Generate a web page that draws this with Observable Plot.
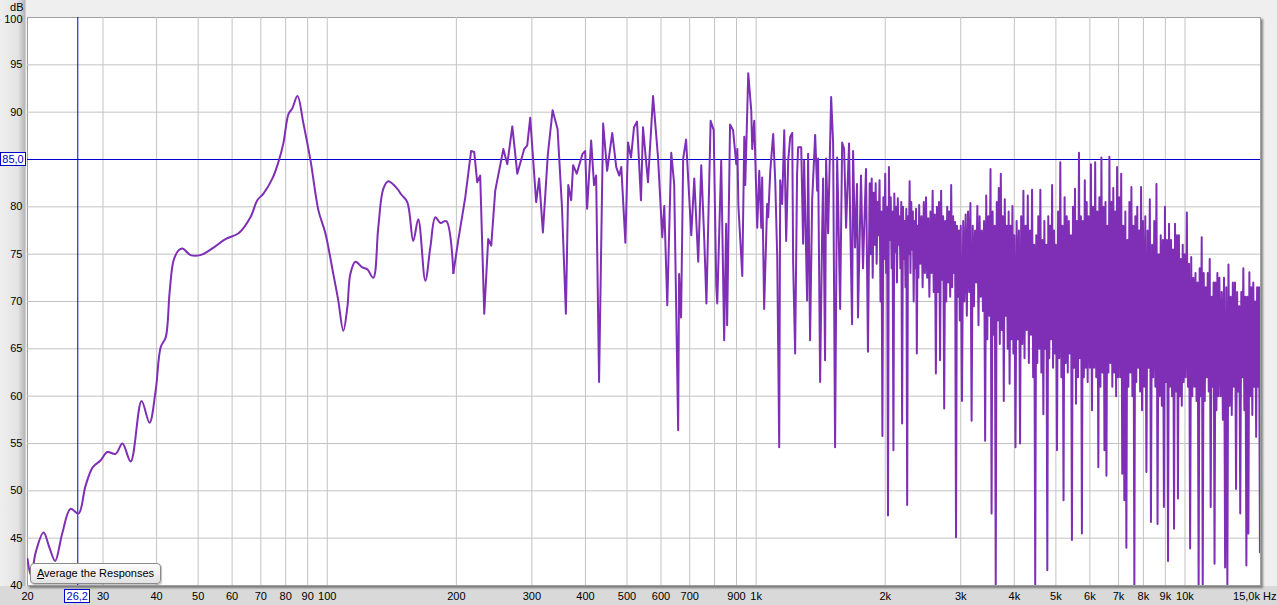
<!DOCTYPE html>
<html><head><meta charset="utf-8">
<script src="https://cdn.jsdelivr.net/npm/d3@7"></script>
<script src="https://cdn.jsdelivr.net/npm/@observablehq/plot@0.6"></script>
<style>
html,body{margin:0;padding:0;background:#efefef;}
#wrap{position:relative;width:1277px;height:605px;overflow:hidden;font-family:"Liberation Sans",Arial,sans-serif;}
.cur{position:absolute;border:1px solid #0000c8;background:#fff;color:#0000c8;font-size:11px;line-height:12px;box-sizing:border-box;text-align:center;}
.btn{position:absolute;box-sizing:border-box;border:1px solid #8a8a8a;border-radius:4px;background:linear-gradient(#fdfdfd,#e2e2e2);font-size:11px;line-height:19px;text-align:center;color:#000;box-shadow:1px 1px 1px rgba(0,0,0,0.25);}
</style></head><body><div id="wrap"></div>
<script>
// ---- data: 20 Hz .. 200 Hz (smooth part)
const lowFreq = [20.0,20.4,20.9,21.8,22.5,23.2,24.1,25.2,26.3,27.3,
28.4,29.6,30.7,32.1,33.3,34.8,36.9,38.5,39.8,40.9,
42.0,42.9,43.8,45.0,46.0,48.0,50.6,54.3,57.9,62.1,
66.2,68.7,71.0,74.5,76.9,79.0,81.2,82.9,85.2,88.0,
91.4,95.4,99.0,103.3,106.1,109.0,111.4,113.2,116.3,120.7,
124.0,128.0,131.5,135.1,138.8,145.7,148.8,153.7,158.7,163.0,
169.3,174.0,178.7,183.6,189.5,196.8];
const lowDb = [42.8,41.0,43.5,45.6,44.0,42.6,45.5,48.1,47.6,50.5,
52.5,53.2,54.1,53.9,55.0,53.1,59.5,57.2,60.6,65.2,
66.2,71.0,74.3,75.4,75.6,74.9,74.9,75.7,76.6,77.2,
78.9,80.7,81.4,83.0,84.7,86.7,89.8,90.4,91.7,88.8,
84.9,79.6,77.2,72.9,70.1,66.9,69.4,72.9,74.2,73.6,
73.4,72.5,77.8,81.9,82.7,81.9,81.3,80.5,76.4,78.7,
72.2,75.8,78.9,78.3,78.5,73.0];

// ---- data: 200 Hz .. 1.8 kHz
const midFreq = [196.8,202.1,209.8,216.5,220.1,223.7,227.3,232.3,237.3,241.2,
246.4,257.4,262.9,270.1,277.4,287.9,292.6,297.3,307.0,311.9,
318.3,326.8,335.3,344.4,352.6,360.1,364.7,370.4,374.4,381.6,
393.8,399.4,403.6,412.4,418.9,423.6,430.3,439.8,449.4,461.9,
471.9,479.6,484.9,495.6,502.7,510.8,519.1,527.5,538.9,544.8,
559.6,575.0,590.6,604.2,610.7,620.6,634.0,644.1,658.0,661.3,
668.4,675.9,686.5,706.0,717.4,732.9,744.8,757.2,765.8,783.3,
796.3,807.3,811.7,829.1,842.3,851.3,855.9,869.4,883.6,899.0,
904.3,909.2,928.4,938.4,943.4,958.6,974.1,979.4,990.0,1006,
1017,1028,1033,1044,1061,1067,1079,1096,1108,1120,
1132,1138,1150,1163,1175,1188,1201,1214,1220,1233,
1246,1253,1274,1287,1294,1315,1322,1336,1351,1373,
1388,1395,1410,1425,1433,1448,1456,1472,1496,1512,
1528,1545,1553,1570,1587,1604,1621,1647,1656,1674,
1683,1701,1719,1728,1756,1775,1804,1823];
const midDb = [73.0,76.5,81.0,85.9,85.8,82.6,83.3,68.7,76.6,75.9,
81.7,86.1,84.5,88.5,83.5,86.1,86.5,89.4,80.5,83.0,
77.3,85.5,90.2,88.2,80.0,68.7,82.3,80.7,84.4,83.5,
85.6,85.9,79.8,87.0,82.3,83.3,61.5,88.8,83.8,87.8,
84.2,83.3,84.2,76.2,86.8,85.2,88.4,89.0,80.7,88.4,
82.6,91.7,85.2,76.8,80.1,69.6,85.7,82.4,56.4,72.9,
68.3,85.1,87.1,77.0,83.0,74.2,84.4,76.4,69.8,89.1,
88.1,71.7,69.8,84.9,65.9,78.2,67.5,88.7,88.1,84.5,
86.1,80.1,72.7,87.4,82.3,94.1,90.2,86.1,89.1,77.8,
83.8,77.8,83.1,69.2,80.3,78.9,83.8,87.7,82.8,74.7,
54.6,82.8,80.3,88.1,76.4,84.9,87.4,87.8,74.0,64.5,
83.5,86.3,86.3,76.1,84.9,70.1,85.6,65.9,80.7,87.6,
81.7,85.1,61.5,77.0,83.0,63.8,85.1,77.2,91.6,86.7,
54.6,85.2,80.7,69.2,86.8,86.1,77.8,86.7,79.3,67.6,
85.9,75.7,82.4,68.3,83.3,73.5,84.0,64.7];

// ---- data: 1.84 kHz .. 15 kHz (dense part)
const denseFreq = [
1840,1850,1860,1870,1880,1890,1900,1910,1920,1930,1940,1950,1960,1970,1980,1990,2000,2010,2020,2030,2040,2050,2060,2070,2080,2090,2100,2110,2120,2130,2140,2150,2160,2170,2180,2190,2200,2210,2220,2230,2240,2250,2260,2270,2280,2290,2300,2310,2320,2330,2340,2350,2360,2370,2380,2390,2400,
2415,2430,2445,2460,2475,2490,2505,2520,2535,2550,2565,2580,2595,2610,2625,2640,2655,2670,2685,2700,2715,2730,2745,2760,2775,2790,2805,2820,2835,2850,2865,2880,2895,2910,2925,2940,2955,2970,2985,
3000,3020,3040,3060,3080,3100,3120,3140,3160,3180,3200,3220,3240,3260,3280,3300,3320,3340,3360,3380,3400,3420,3440,3460,3480,3500,3520,3540,3560,3580,3600,3620,3640,3660,3680,3700,3720,3740,3760,3780,3800,3820,3840,3860,3880,3900,3920,3940,3960,3980,
4000,4025,4050,4075,4100,4125,4150,4175,4200,4225,4250,4275,4300,4325,4350,4375,4400,4425,4450,4475,4500,4525,4550,4575,4600,4625,4650,4675,4700,4725,4750,4775,4800,4825,4850,4875,4900,4925,4950,4975,
5000,5030,5060,5090,5120,5150,5180,5210,5240,5270,5300,5330,5360,5390,5420,5450,5480,5510,5540,5570,5600,5630,5660,5690,5720,5750,5780,5810,5840,5870,5900,5930,5960,
6000,6035,6070,6105,6140,6175,6210,6245,6280,6315,6350,6385,6420,6455,6490,6525,6560,6595,6630,6665,6700,6735,6770,6805,6840,6875,6910,6945,6980,
7020,7060,7100,7140,7180,7220,7260,7300,7340,7380,7420,7460,7500,7540,7580,7620,7660,7700,7740,7780,7820,7860,7900,7940,7980,
8030,8080,8130,8180,8230,8280,8330,8380,8430,8480,8530,8580,8630,8680,8730,8780,8830,8880,8930,8980,9030,9080,9130,9180,9230,9280,9330,9380,9430,9480,9530,9580,9630,9680,9730,9780,9830,9880,9930,9980,
10040,10100,10160,10220,10280,10340,10400,10460,10520,10580,10640,10700,10760,10820,10880,10940,11000,11060,11120,11180,11240,11300,11360,11420,11480,11540,11600,11660,11720,11780,11840,11900,11960,
12030,12105,12180,12255,12330,12405,12480,12555,12630,12705,12780,12855,12930,13005,13080,13155,13230,13305,13380,13455,13530,13605,13680,13755,13830,13905,13980,14055,14130,14205,14280,14355,14430,14505,14580,14655,14730,14805,14880,14955,15000];
const denseDb = [
82.5,75.0,83.0,72.5,81.5,76.0,82.5,74.0,80.5,77.0,82.8,70.0,79.5,55.8,81.0,74.5,83.5,73.0,80.0,47.4,84.2,76.5,81.0,73.5,79.5,54.3,81.4,75.2,80.0,72.0,80.9,76.0,79.0,73.5,80.5,57.1,80.0,74.5,78.5,71.5,79.8,48.5,79.0,75.0,82.7,73.0,80.5,75.5,79.5,70.0,78.5,73.5,79.8,64.5,78.0,72.5,80.2,
74.0,79.0,71.5,80.5,73.0,81.0,72.5,78.8,70.5,79.5,73.0,81.7,71.0,79.2,62.4,80.0,71.0,80.5,63.8,81.7,72.3,79.0,58.7,78.5,70.0,80.0,72.0,79.5,70.5,82.3,71.5,79.0,73.0,78.4,45.1,78.0,70.5,77.5,68.0,
78.0,59.5,78.5,70.0,79.2,68.5,79.5,71.0,80.4,57.4,78.0,69.5,77.5,72.0,80.1,67.5,79.0,70.5,77.5,69.0,78.5,55.3,81.2,66.0,79.0,68.5,84.0,47.6,79.5,66.5,78.0,40.0,80.5,68.0,82.0,65.5,83.5,67.0,79.0,59.5,80.8,68.5,78.0,65.0,79.5,61.3,78.0,66.0,80.1,64.5,
77.0,54.6,78.5,66.0,77.5,55.0,79.0,65.5,81.7,64.0,78.0,67.0,81.2,63.5,77.5,66.5,81.8,62.0,76.0,40.0,77.0,63.5,79.0,65.0,81.8,62.5,76.5,58.1,78.5,65.0,76.0,41.6,79.0,64.0,78.0,66.0,82.3,63.0,77.5,64.5,
76.0,54.3,79.5,64.0,84.7,62.0,78.0,49.0,81.0,63.5,79.0,62.5,78.5,64.5,77.0,44.8,80.0,63.0,81.9,59.2,78.5,62.0,85.7,64.0,79.0,45.5,78.5,62.0,82.8,63.0,80.5,61.5,79.0,
63.0,84.5,58.5,80.0,63.0,84.7,62.0,79.5,52.5,81.0,61.0,85.2,62.5,80.0,54.3,80.5,51.6,78.0,62.5,85.3,63.5,80.5,61.0,82.0,62.5,79.5,60.0,84.2,62.0,
81.0,62.0,83.5,51.8,78.0,49.0,79.5,44.0,76.5,61.0,80.5,62.5,82.1,60.0,78.0,40.0,79.0,61.5,80.0,63.0,77.5,60.5,82.1,58.5,78.5,
61.0,79.0,52.0,77.5,63.0,80.8,46.7,76.0,62.0,78.5,61.0,82.4,46.5,75.0,60.0,77.0,59.0,76.5,48.3,80.0,61.5,76.5,42.6,78.2,61.0,76.5,60.0,75.5,46.0,78.2,60.5,77.0,49.2,77.0,60.0,74.5,59.0,76.0,61.5,75.0,
62.0,79.4,61.0,74.0,43.9,74.7,60.0,72.5,61.0,73.0,59.5,72.0,40.0,73.5,60.0,76.8,40.0,73.0,59.5,71.5,62.0,73.0,60.5,74.5,48.3,70.5,61.0,72.0,42.3,72.0,58.5,73.0,60.0,
72.5,60.0,71.0,57.5,72.5,41.9,71.5,40.0,73.9,59.0,70.5,58.0,72.0,61.0,72.0,50.2,71.0,60.5,69.5,47.6,71.0,62.0,73.5,58.5,70.5,42.1,70.5,45.5,73.1,60.0,71.5,58.0,72.0,61.0,70.0,55.7,71.5,61.0,71.5,43.5,62.0];

// ---- axes & cursor
const xTickValues = [20,30,40,50,60,70,80,90,100,200,300,400,500,600,700,900,1000,2000,3000,4000,5000,6000,7000,8000,9000,10000];
const xTickLabels = ["20","30","40","50","60","70","80","90","100","200","300","400","500","600","700","900","1k","2k","3k","4k","5k","6k","7k","8k","9k","10k"];
const xEndValue = 15000;
const xEndLabel = "15,0k Hz";
const xGrid = [30,40,50,60,70,80,90,100,200,300,400,500,600,700,800,900,1000,2000,3000,4000,5000,6000,7000,8000,9000,10000];
const yTickValues = [40,45,50,55,60,65,70,75,80,90,95];
const yTopValue = 100;
const yGrid = [45,50,55,60,65,70,75,80,90,95];
const cursorFreq = 26.2;
const cursorDb = 85.0;
const buttonLabel = "Average the Responses";

const lowData = lowFreq.map((f, i) => ({f, db: lowDb[i]}));
const restFreq = midFreq.concat(denseFreq);
const restDb = midDb.concat(denseDb);
const nRest = Math.min(restFreq.length, restDb.length);
const restData = restFreq.slice(0, nRest).map((f, i) => ({f, db: restDb[i]}));

const lineColor = "#7e2fb5";
const cursorColor = "#0000cc";
const chart = Plot.plot({
  width: 1277, height: 605,
  marginLeft: 27, marginRight: 17, marginTop: 17, marginBottom: 20,
  style: {
    fontFamily: "'Liberation Sans', Arial, sans-serif",
    fontSize: "11px",
    color: "#000",
    background: "linear-gradient(to bottom, rgba(0,0,0,0) 586px, #d9d9d9 586px), linear-gradient(to right, #efefef 0px, #e3e3e3 18px, #b5b5b5 25px, #efefef 26px)"
  },
  x: {type: "log", domain: [20, 15000], axis: null},
  y: {domain: [40, 100], axis: null},
  marks: [
    Plot.frame({fill: "white", stroke: "#a0a0a0"}),
    Plot.ruleX(xGrid, {stroke: "#c3c3c3"}),
    Plot.ruleY(yGrid, {stroke: "#c3c3c3"}),
    Plot.ruleX([cursorFreq], {stroke: cursorColor, strokeWidth: 1}),
    Plot.ruleY([cursorDb], {stroke: cursorColor, strokeWidth: 1}),
    Plot.line(lowData, {x: "f", y: "db", stroke: lineColor, strokeWidth: 2, curve: "catmull-rom", clip: true}),
    Plot.line(restData, {x: "f", y: "db", stroke: lineColor, strokeWidth: 2, clip: true}),
    Plot.text(xTickValues, {x: d => d, text: (d, i) => xTickLabels[i], frameAnchor: "bottom", lineAnchor: "middle", dy: 11, fill: "#000"}),
    Plot.text([xEndValue], {x: d => d, text: () => xEndLabel, frameAnchor: "bottom", lineAnchor: "middle", textAnchor: "end", dx: 16, dy: 11, fill: "#000"}),
    Plot.text(yTickValues, {y: d => d, text: d => String(d), frameAnchor: "left", lineAnchor: "middle", textAnchor: "end", dx: -5, fill: "#000"}),
    Plot.text([yTopValue], {y: d => d, text: d => String(d), frameAnchor: "left", lineAnchor: "middle", textAnchor: "end", dx: -5, dy: 2, fill: "#000"}),
    Plot.text(["dB"], {frameAnchor: "top-left", lineAnchor: "middle", textAnchor: "end", dx: -4, dy: -10, fill: "#000"})
  ]
});

const wrap = document.getElementById("wrap");
wrap.appendChild(chart);
const fr = chart.querySelector('[aria-label="frame"]');
if (fr) fr.style.filter = "drop-shadow(2px 2px 1px rgba(0,0,0,0.45))";

const xs = chart.scale("x"), ys = chart.scale("y");
const fmt = v => v.toFixed(1).replace(".", ",");

const bx = document.createElement("div");
bx.className = "cur";
bx.textContent = fmt(cursorFreq);
const cx = xs.apply(cursorFreq);
bx.style.left = (cx - 13) + "px"; bx.style.top = (ys.apply(40) + 4) + "px";
bx.style.width = "26px"; bx.style.height = "14px";
wrap.appendChild(bx);

const by = document.createElement("div");
by.className = "cur";
by.textContent = fmt(cursorDb);
const cy = ys.apply(cursorDb);
by.style.left = "0px"; by.style.top = (cy - 7) + "px";
by.style.width = (xs.apply(20) - 1) + "px"; by.style.height = "14px";
wrap.appendChild(by);

const btn = document.createElement("div");
btn.className = "btn";
btn.innerHTML = '<span style="text-decoration:underline">' + buttonLabel[0] + '</span>' + buttonLabel.slice(1);
btn.style.left = (xs.apply(20) + 3) + "px";
btn.style.top = (ys.apply(40) - 22) + "px";
btn.style.width = "131px"; btn.style.height = "21px";
wrap.appendChild(btn);
</script></body></html>
